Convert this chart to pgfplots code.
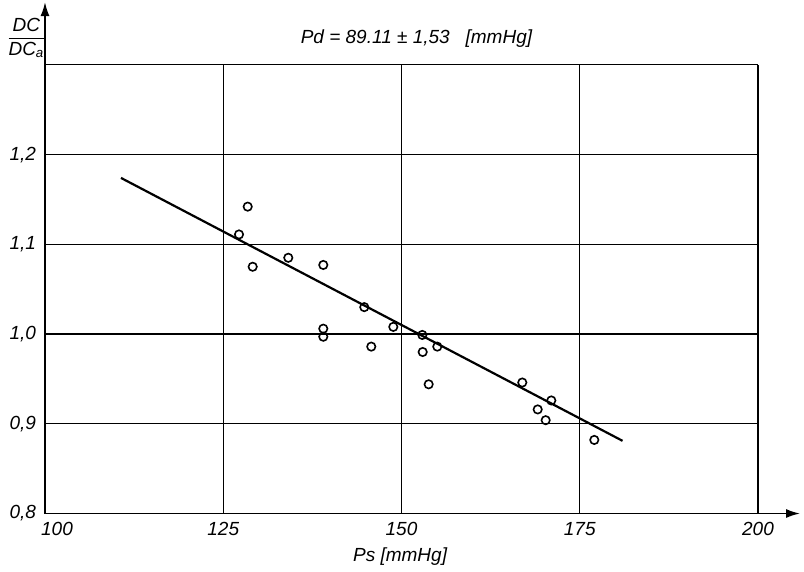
\documentclass[border=0pt]{standalone}
\usepackage{fontspec}
\setmainfont{Liberation Sans}
\usepackage{amsmath}
\usepackage{pgfplots}
\pgfplotsset{compat=1.18}
\usetikzlibrary{arrows.meta}

% measured points (Ps, DC/DCa)
\pgfplotstableread{
ps     dc
128.43 1.142
127.21 1.111
129.13 1.075
134.12 1.085
139.03 1.077
139.03 1.006
139.03 0.997
144.78 1.030
145.76 0.986
148.85 1.008
152.92 0.999
152.97 0.980
155.02 0.986
153.81 0.944
166.94 0.946
171.01 0.926
169.10 0.916
170.22 0.904
177.04 0.882
}\points

\begin{document}
\begin{tikzpicture}[font=\fontsize{9.5}{10}\selectfont\itshape]
\begin{axis}[
    scale only axis,
    width=377.5pt, height=255.7pt,
    xmin=100, xmax=205.9,
    ymin=0.8, ymax=1.370,
    axis lines=left,
    axis line style={line width=0.9pt, -{Latex[length=7pt,width=4.5pt]}},
    xtick={100,125,150,175,200},
    xticklabels={\hspace*{12pt}100,125,150,175,200},
    ytick={0.8,0.9,1.0,1.1,1.2},
    major tick length=0pt,
    tick label style={font=\fontsize{9.5}{10}\selectfont\itshape},
    /pgf/number format/.cd, use comma, fixed, fixed zerofill, precision=1,
        assume math mode=true,
    /pgfplots/.cd,
    xticklabel style={yshift=-1pt},
    yticklabel style={xshift=-1pt},
    clip=false,
]
% grid, bounded at 200 and 1.3
\pgfplotsinvokeforeach{125,150,175,200}{
  \draw[line width=0.6pt] (axis cs:#1,0.8) -- (axis cs:#1,1.3);
}
\pgfplotsinvokeforeach{0.9,1.0,1.1,1.2,1.3}{
  \draw[line width=0.6pt] (axis cs:100,#1) -- (axis cs:200,#1);
}

\addplot[black, line width=1.1pt] coordinates {(110.66,1.174) (181.0,0.881)};

\addplot[only marks, mark=o, mark size=2.1pt, mark options={line width=0.8pt}, black]
    table[x=ps, y=dc] {\points};

\node at (axis cs:152.1,1.329) {Pd = 89.11 ± 1,53 \ \ [mmHg]};
\node at (axis cs:149.8,0.752) {Ps [mmHg]};
\node at (axis cs:97.4,1.330) {$\dfrac{\textit{DC}}{\textit{DC}_{\textit{a}}}$};

\coordinate (ll) at (axis cs:93.69,0.7358);
\coordinate (ur) at (axis cs:206.45,1.3723);
\end{axis}
\pgfresetboundingbox
\path (ll) rectangle (ur);
\end{tikzpicture}
\end{document}
